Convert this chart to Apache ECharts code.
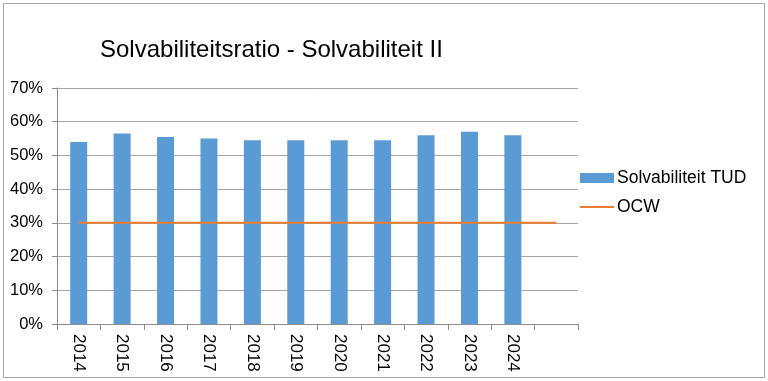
<!DOCTYPE html>
<html>
<head>
<meta charset="utf-8">
<script src="https://cdn.jsdelivr.net/npm/echarts@6/dist/echarts.min.js"></script>
<style>html,body{margin:0;padding:0;background:#fff;}#c{width:768px;height:381px;}</style>
</head>
<body>
<div id="c"></div>
<script>
const categories = ['2014','2015','2016','2017','2018','2019','2020','2021','2022','2023','2024',''];
const solvabiliteitTUD = [0.54,0.565,0.555,0.55,0.545,0.545,0.545,0.545,0.56,0.57,0.56,null];
const ocw = [0.30,0.30,0.30,0.30,0.30,0.30,0.30,0.30,0.30,0.30,0.30,0.30];
const yTicks = [0,0.1,0.2,0.3,0.4,0.5,0.6,0.7];

const chart = echarts.init(document.getElementById('c'), null, {renderer:'canvas'});
const font = 'Liberation Sans, Arial, sans-serif';
const legendText = {fontFamily:font,fontSize:17.5,color:'#000',padding:[0,0,0,-2]};
chart.setOption({
  animation:false,
  backgroundColor:'#fff',
  textStyle:{fontFamily:font},
  graphic:[{type:'rect',shape:{x:3.5,y:3.5,width:761,height:374},style:{fill:'none',stroke:'#a6a6a6',lineWidth:1}}],
  title:{text:'Solvabiliteitsratio - Solvabiliteit II',left:95,top:33,
    textStyle:{fontFamily:font,fontSize:24,fontWeight:'normal',color:'#000'}},
  legend:[
    {orient:'vertical',left:575,top:164,itemWidth:34,itemHeight:10,icon:'rect',
      textStyle:legendText,data:['Solvabiliteit TUD']},
    {orient:'vertical',left:575,top:193,itemWidth:34,itemHeight:2,icon:'rect',
      textStyle:legendText,data:['OCW']}
  ],
  grid:{left:57,right:190,top:88,bottom:57,containLabel:false},
  xAxis:{type:'category',data:categories,boundaryGap:true,
    axisLine:{lineStyle:{color:'#8c8c8c',width:1}},
    axisTick:{show:true,length:6,interval:0,lineStyle:{color:'#8c8c8c'}},
    axisLabel:{rotate:-90,interval:0,fontSize:17,color:'#000',margin:10,fontFamily:font}},
  yAxis:{type:'value',min:0,max:0.7,interval:0.1,
    axisLine:{show:true,lineStyle:{color:'#8c8c8c'}},
    axisTick:{show:true,length:5,lineStyle:{color:'#8c8c8c'}},
    splitLine:{lineStyle:{color:'#a6a6a6',width:1}},
    axisLabel:{fontSize:16.5,color:'#000',margin:14,fontFamily:font,
      formatter:v=>Math.round(v*100)+'%'}},
  series:[
    {name:'Solvabiliteit TUD',type:'bar',data:solvabiliteitTUD,barWidth:17,
      itemStyle:{color:'#5b9bd5'}},
    {name:'OCW',type:'line',data:ocw,symbol:'none',
      lineStyle:{color:'#ed7d31',width:2},itemStyle:{color:'#ed7d31'}}
  ]
});
</script>
</body>
</html>
